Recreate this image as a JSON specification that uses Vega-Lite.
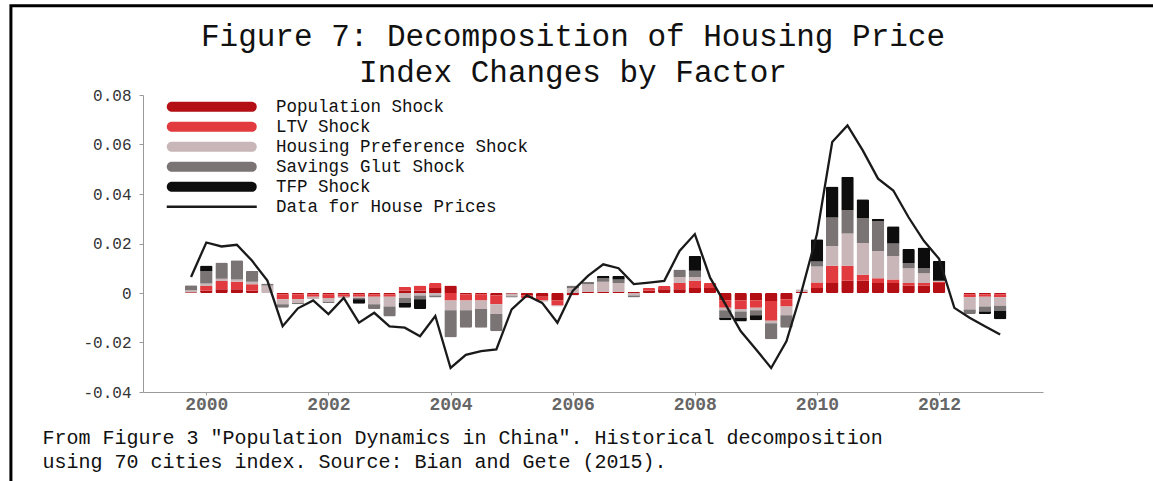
{
  "$schema": "https://vega.github.io/schema/vega-lite/v6.json",
  "width": 900,
  "height": 297,
  "autosize": {"type": "none"},
  "padding": {"left": 143, "top": 95, "right": 110, "bottom": 89},
  "background": "white",
  "title": {
    "text": ["Figure 7: Decomposition of Housing Price", "Index Changes by Factor"],
    "font": "Liberation Mono",
    "fontSize": 31,
    "fontWeight": "normal",
    "lineHeight": 36,
    "anchor": "middle",
    "frame": "group",
    "dx": -20,
    "offset": -85,
    "color": "#111"
  },
  "datasets": {
    "factors": [
      {"key": "p", "name": "Population Shock", "o": 1},
      {"key": "l", "name": "LTV Shock", "o": 2},
      {"key": "h", "name": "Housing Preference Shock", "o": 3},
      {"key": "s", "name": "Savings Glut Shock", "o": 4},
      {"key": "t", "name": "TFP Shock", "o": 5}
    ],
    "quarters": [
      {"q": 1999.75, "p": 0.0003, "l": 0, "h": 0.0008, "s": 0.002, "t": 0, "d": 0.0065},
      {"q": 2000.0, "p": 0.001, "l": 0.0018, "h": 0.001, "s": 0.005, "t": 0.0023, "d": 0.0204},
      {"q": 2000.25, "p": 0.0015, "l": 0.0033, "h": 0.001, "s": 0.0065, "t": 0, "d": 0.0188},
      {"q": 2000.5, "p": 0.0015, "l": 0.003, "h": 0.001, "s": 0.0077, "t": 0, "d": 0.0195},
      {"q": 2000.75, "p": 0.001, "l": 0.0025, "h": 0.001, "s": 0.0045, "t": 0, "d": 0.013},
      {"q": 2001.0, "p": 0, "l": 0, "h": 0.003, "s": 0.0008, "t": 0, "d": 0.005},
      {"q": 2001.25, "p": -0.0005, "l": -0.002, "h": -0.002, "s": -0.0015, "t": 0, "d": -0.0134},
      {"q": 2001.5, "p": -0.0005, "l": -0.002, "h": -0.0015, "s": -0.0005, "t": 0, "d": -0.0062},
      {"q": 2001.75, "p": -0.0005, "l": -0.001, "h": -0.001, "s": 0, "t": 0, "d": -0.003},
      {"q": 2002.0, "p": -0.0005, "l": -0.0015, "h": -0.0015, "s": -0.0005, "t": 0, "d": -0.0085},
      {"q": 2002.25, "p": -0.0005, "l": -0.001, "h": -0.0005, "s": 0, "t": 0, "d": -0.002},
      {"q": 2002.5, "p": -0.0005, "l": -0.001, "h": -0.0005, "s": -0.0005, "t": -0.0018, "d": -0.012},
      {"q": 2002.75, "p": -0.0005, "l": -0.001, "h": -0.003, "s": -0.002, "t": 0, "d": -0.008},
      {"q": 2003.0, "p": -0.0005, "l": -0.001, "h": -0.004, "s": -0.004, "t": 0, "d": -0.0135},
      {"q": 2003.25, "p": 0.001, "l": 0.0015, "h": -0.002, "s": -0.002, "t": -0.002, "d": -0.014},
      {"q": 2003.5, "p": 0.001, "l": 0.002, "h": -0.001, "s": -0.0015, "t": -0.004, "d": -0.0175},
      {"q": 2003.75, "p": 0.002, "l": 0.002, "h": -0.001, "s": -0.0008, "t": 0, "d": -0.0093},
      {"q": 2004.0, "p": 0.003, "l": -0.003, "h": -0.004, "s": -0.011, "t": 0, "d": -0.0303},
      {"q": 2004.25, "p": -0.0005, "l": -0.0025, "h": -0.004, "s": -0.007, "t": 0, "d": -0.025},
      {"q": 2004.5, "p": -0.0005, "l": -0.0025, "h": -0.0035, "s": -0.0075, "t": 0, "d": -0.0235},
      {"q": 2004.75, "p": -0.001, "l": -0.0035, "h": -0.004, "s": -0.007, "t": 0, "d": -0.0228},
      {"q": 2005.0, "p": -0.0003, "l": 0, "h": -0.001, "s": -0.0005, "t": 0, "d": -0.0066},
      {"q": 2005.25, "p": -0.001, "l": -0.001, "h": 0, "s": 0, "t": 0, "d": -0.001},
      {"q": 2005.5, "p": -0.0015, "l": -0.0015, "h": -0.0005, "s": 0, "t": 0, "d": -0.004},
      {"q": 2005.75, "p": -0.003, "l": -0.002, "h": -0.0005, "s": 0, "t": 0, "d": -0.012},
      {"q": 2006.0, "p": -0.001, "l": 0, "h": 0.002, "s": 0.001, "t": 0, "d": 0.0008},
      {"q": 2006.25, "p": 0.0005, "l": 0, "h": 0.003, "s": 0.001, "t": 0, "d": 0.0069},
      {"q": 2006.5, "p": 0.0005, "l": 0, "h": 0.004, "s": 0.0015, "t": 0.001, "d": 0.0116},
      {"q": 2006.75, "p": 0.0005, "l": 0, "h": 0.0035, "s": 0.0015, "t": 0.0015, "d": 0.010},
      {"q": 2007.0, "p": 0.0005, "l": 0, "h": -0.001, "s": -0.0008, "t": 0, "d": 0.0036},
      {"q": 2007.25, "p": 0.001, "l": 0.001, "h": 0, "s": 0, "t": 0, "d": 0.0042},
      {"q": 2007.5, "p": 0.0015, "l": 0.0013, "h": 0, "s": 0, "t": 0, "d": 0.0049},
      {"q": 2007.75, "p": 0.0015, "l": 0.0025, "h": 0.0025, "s": 0.003, "t": 0, "d": 0.017},
      {"q": 2008.0, "p": 0.002, "l": 0.003, "h": 0.0015, "s": 0.0025, "t": 0.006, "d": 0.0238},
      {"q": 2008.25, "p": 0.002, "l": 0.002, "h": 0, "s": 0, "t": 0, "d": 0.0062},
      {"q": 2008.5, "p": -0.003, "l": -0.003, "h": -0.001, "s": -0.003, "t": -0.001, "d": -0.0045},
      {"q": 2008.75, "p": -0.003, "l": -0.0035, "h": -0.001, "s": -0.0025, "t": -0.0015, "d": -0.0154},
      {"q": 2009.0, "p": -0.003, "l": -0.003, "h": -0.001, "s": -0.002, "t": -0.002, "d": -0.0227},
      {"q": 2009.25, "p": -0.0032, "l": -0.008, "h": -0.001, "s": -0.0065, "t": 0, "d": -0.0303},
      {"q": 2009.5, "p": -0.0025, "l": -0.003, "h": -0.0035, "s": -0.005, "t": 0, "d": -0.0195},
      {"q": 2009.75, "p": 0.0005, "l": 0, "h": 0.001, "s": 0, "t": 0, "d": 0.0008},
      {"q": 2010.0, "p": 0.002, "l": 0.0022, "h": 0.0065, "s": 0.002, "t": 0.009, "d": 0.0238},
      {"q": 2010.25, "p": 0.004, "l": 0.007, "h": 0.008, "s": 0.0115, "t": 0.0125, "d": 0.061},
      {"q": 2010.5, "p": 0.005, "l": 0.006, "h": 0.013, "s": 0.0095, "t": 0.0135, "d": 0.0677},
      {"q": 2010.75, "p": 0.0049, "l": 0.0025, "h": 0.0128, "s": 0.010, "t": 0.0077, "d": 0.0576},
      {"q": 2011.0, "p": 0.004, "l": 0.002, "h": 0.011, "s": 0.012, "t": 0.001, "d": 0.0462},
      {"q": 2011.25, "p": 0.004, "l": 0.0015, "h": 0.0095, "s": 0.005, "t": 0.007, "d": 0.0414},
      {"q": 2011.5, "p": 0.003, "l": 0.001, "h": 0.006, "s": 0.002, "t": 0.0058, "d": 0.0306},
      {"q": 2011.75, "p": 0.003, "l": 0.001, "h": 0.004, "s": 0.002, "t": 0.0084, "d": 0.0211},
      {"q": 2012.0, "p": 0.004, "l": 0.0005, "h": 0.0005, "s": 0, "t": 0.008, "d": 0.0138},
      {"q": 2012.25, "p": 0, "l": 0, "h": 0, "s": 0, "t": 0, "d": -0.006},
      {"q": 2012.5, "p": -0.0005, "l": -0.0012, "h": -0.005, "s": -0.0018, "t": 0, "d": -0.010},
      {"q": 2012.75, "p": -0.0005, "l": -0.001, "h": -0.004, "s": -0.002, "t": -0.001, "d": -0.0134},
      {"q": 2013.0, "p": -0.0005, "l": -0.0012, "h": -0.0035, "s": -0.002, "t": -0.0034, "d": -0.0168}
    ],
    "frame": [{"x1": 1996.8, "x2": 2030, "y1": 0.1161, "y2": -0.2}]
  },
  "config": {
    "font": "Liberation Mono",
    "view": {"stroke": null},
    "axis": {"grid": false, "domainColor": "#9a9a9a", "tickColor": "#9a9a9a", "labelFont": "Liberation Mono", "titleFont": "Liberation Mono"},
    "legend": {"labelFont": "Liberation Mono", "labelLimit": 0}
  },
  "layer": [
    {
      "data": {"name": "frame"},
      "mark": {"type": "rect", "fill": null, "stroke": "#000", "strokeWidth": 3, "clip": false},
      "encoding": {
        "x": {"field": "x1", "type": "quantitative", "scale": {"domain": [1999.045, 2013.62], "nice": false, "zero": false}},
        "x2": {"field": "x2"},
        "y": {"field": "y1", "type": "quantitative", "scale": {"domain": [-0.04, 0.08], "nice": false, "zero": false}},
        "y2": {"field": "y2"}
      }
    },
    {
      "mark": {"type": "rule", "color": "#c4c4c4", "strokeWidth": 1.2},
      "encoding": {
        "y": {"datum": 0, "type": "quantitative"}
      }
    },
    {
      "data": {"name": "quarters"},
      "transform": [
        {"fold": ["p", "l", "h", "s", "t"], "as": ["key", "v"]},
        {"lookup": "key", "from": {"data": {"name": "factors"}, "key": "key", "fields": ["name", "o"]}}
      ],
      "mark": {"type": "bar", "size": 12.5, "cornerRadius": 1.5},
      "encoding": {
        "x": {
          "field": "q", "type": "quantitative",
          "scale": {"domain": [1999.045, 2013.62], "nice": false, "zero": false},
          "axis": {
            "values": [2000, 2002, 2004, 2006, 2008, 2010, 2012],
            "format": "d",
            "labelFontSize": 18,
            "labelFontWeight": "bold",
            "labelColor": "#666",
            "labelPadding": 0,
            "tickSize": 3,
            "title": ["From Figure 3 \"Population Dynamics in China\". Historical decomposition", "using 70 cities index. Source: Bian and Gete (2015)."],
            "titleFontSize": 20,
            "titleFontWeight": "normal",
            "titleColor": "#111",
            "titleX": -101,
            "titleY": 35,
            "titleAlign": "left",
            "titleAnchor": "start",
            "titleBaseline": "top",
            "titleLineHeight": 24
          }
        },
        "y": {
          "field": "v", "type": "quantitative", "stack": "zero",
          "scale": {"domain": [-0.04, 0.08], "nice": false, "zero": false},
          "axis": {
            "values": [-0.04, -0.02, 0, 0.02, 0.04, 0.06, 0.08],
            "labelExpr": "datum.value == 0 ? '0' : (datum.value < 0 ? '-' + format(-datum.value, '.2f') : format(datum.value, '.2f'))",
            "labelFontSize": 16,
            "labelColor": "#333",
            "labelPadding": 8,
            "tickSize": 4,
            "title": null
          }
        },
        "color": {
          "field": "name", "type": "nominal",
          "scale": {
            "domain": ["Population Shock", "LTV Shock", "Housing Preference Shock", "Savings Glut Shock", "TFP Shock"],
            "range": ["#b30f14", "#e23b3f", "#c8b6b8", "#7b7474", "#0d0d0d"]
          },
          "legend": {
            "title": null,
            "orient": "none",
            "legendX": 60,
            "legendY": 3,
            "padding": 0,
            "symbolType": "M-8,-1 L8,-1 A1,1 0 0 1 8,1 L-8,1 A1,1 0 0 1 -8,-1 Z",
            "symbolSize": 100,
            "symbolStrokeWidth": 0,
            "symbolOpacity": 1,
            "labelFontSize": 17.5,
            "labelColor": "#111",
            "labelOffset": 55.5,
            "rowPadding": 1
          }
        },
        "order": {"field": "o", "type": "quantitative", "sort": "ascending"}
      }
    },
    {
      "data": {"name": "quarters"},
      "mark": {"type": "line", "strokeWidth": 2.3, "color": "#111"},
      "encoding": {
        "x": {"field": "q", "type": "quantitative", "scale": {"domain": [1999.045, 2013.62], "nice": false, "zero": false}},
        "y": {"field": "d", "type": "quantitative", "scale": {"domain": [-0.04, 0.08], "nice": false, "zero": false}},
        "stroke": {
          "datum": "Data for House Prices",
          "type": "nominal",
          "scale": {"range": ["#1a1a1a"]},
          "legend": {
            "title": null,
            "orient": "none",
            "legendX": 60,
            "legendY": 103,
            "padding": 0,
            "symbolType": "M-9,0 L9,0",
            "symbolSize": 100,
            "symbolStrokeWidth": 2.5,
            "symbolStrokeColor": "#555",
            "labelFontSize": 17.5,
            "labelColor": "#111",
            "labelOffset": 55.5
          }
        }
      }
    }
  ]
}
